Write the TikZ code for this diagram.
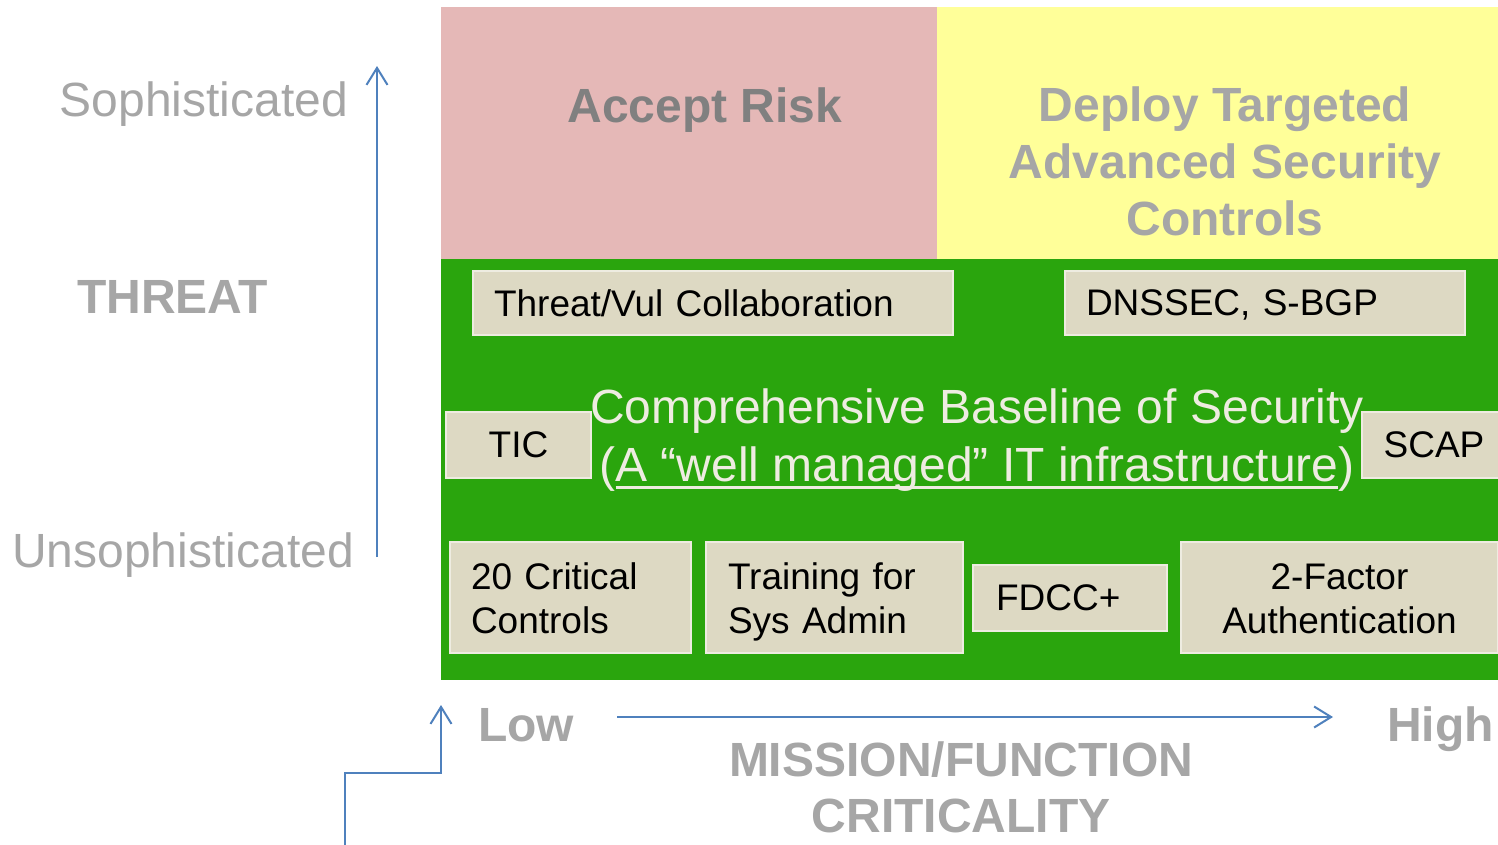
\documentclass[tikz,border=0pt]{standalone}
\usepackage{fontspec}
\setmainfont{Liberation Sans}
\usetikzlibrary{arrows.meta}
\definecolor{pinkbg}{HTML}{E5B8B7}
\definecolor{yellowbg}{HTML}{FFFF99}
\definecolor{greenbg}{HTML}{2AA50D}
\definecolor{beige}{HTML}{DDD9C3}
\definecolor{lightline}{HTML}{EEECE1}
\definecolor{graytxt}{HTML}{A6A6A6}
\definecolor{darkgraytxt}{HTML}{808080}
\definecolor{arrowblue}{HTML}{4F81BD}
\newsavebox\ulbox
\newcommand{\myul}[1]{\sbox\ulbox{#1}\rlap{\rule[-7pt]{\wd\ulbox}{3pt}}\usebox\ulbox}
\tikzset{
  blk/.style={draw=lightline, line width=2pt, fill=beige, inner ysep=0pt, text=black,
    font=\fontsize{37}{44}\selectfont},
  oneline/.style={text depth=0pt},
  twoline/.style={text depth=42pt},
  big/.style={inner sep=0pt, font=\fontsize{48}{57}\selectfont},
  bigb/.style={inner sep=0pt, font=\fontsize{48}{57}\selectfont\bfseries},
  arr/.style={draw=arrowblue, line width=2pt, -{Straight Barb[length=17pt,width=21pt]}},
}
\begin{document}
\begin{tikzpicture}[x=1pt,y=-1pt]
\useasboundingbox (0,0) rectangle (1498,844);
\fill[white] (0,0) rectangle (1498,844);
% regions
\fill[pinkbg] (441,7) rectangle (937,259);
\fill[yellowbg] (937,7) rectangle (1498,259);
\fill[greenbg] (441,259) rectangle (1498,680);
% region titles
\node[bigb, text=darkgraytxt, anchor=base] (accept) at (705,122) {Accept Risk};
\node[bigb, text=graytxt, anchor=north, align=center] (deploy) at (1225,87) {Deploy Targeted\\Advanced Security\\Controls};
% boxes
\node[blk, oneline, minimum width=480pt, minimum height=64pt, text width=438pt, inner xsep=21pt, align=left] (tv) at (713,303) {Threat/Vul Collaboration};
\node[blk, oneline, minimum width=400pt, minimum height=64pt, text width=358pt, inner xsep=21pt, align=left] (dns) at (1265,303) {DNSSEC, S-BGP};
\node[blk, oneline, minimum width=145pt, minimum height=66pt, text width=103pt, inner xsep=21pt, align=center] (tic) at (518.5,445) {TIC};
\node[blk, oneline, minimum width=144pt, minimum height=66pt, text width=102pt, inner xsep=21pt, align=center] (scap) at (1434,445) {SCAP};
\node[blk, twoline, minimum width=241pt, minimum height=111pt, text width=199pt, inner xsep=21pt, align=left] (crit) at (570.5,597.5) {20 Critical\\Controls};
\node[blk, twoline, minimum width=257pt, minimum height=111pt, text width=213pt, inner xsep=22pt, align=left] (train) at (834.5,597.5) {Training for\\Sys Admin};
\node[blk, oneline, minimum width=194pt, minimum height=66pt, text width=148pt, inner xsep=23pt, align=left] (fdcc) at (1070,598) {FDCC+};
\node[blk, twoline, minimum width=317pt, minimum height=111pt, text width=277pt, inner xsep=20pt, align=center] (twof) at (1339.5,597.5) {2-Factor\\Authentication};
% baseline text
\node[inner sep=0pt, anchor=north, align=center, text=lightline, font=\fontsize{48}{58}\selectfont] (base) at (977,389)
  {Comprehensive Baseline of Security\\(\myul{A “well managed” IT infrastructure})};
% axis labels
\node[big, text=graytxt, anchor=base east] (soph) at (348,116) {Sophisticated};
\node[big, text=graytxt, anchor=base east] (unsoph) at (354,567) {Unsophisticated};
\node[bigb, text=graytxt, anchor=base west] (threat) at (77,313) {THREAT};
\node[bigb, text=graytxt, anchor=base west] (low) at (478,741) {Low};
\node[bigb, text=graytxt, anchor=base east] (high) at (1494,741) {High};
\node[bigb, text=graytxt, anchor=north, align=center, font=\fontsize{48}{56}\selectfont\bfseries] (mission) at (961,742) {MISSION/FUNCTION\\CRITICALITY};
% arrows
\coordinate (vA) at (377,557);
\coordinate (vB) at (377,66);
\draw[arr] (vA) -- (vB);
\coordinate (hA) at (617,717);
\coordinate (hB) at (1333,717);
\draw[arr] (hA) -- (hB);
\coordinate (eA) at (345,846);
\coordinate (eM) at (441,773);
\coordinate (eB) at (441,705);
\draw[arr] (eA) |- (eM) -- (eB);
\end{tikzpicture}
\end{document}
